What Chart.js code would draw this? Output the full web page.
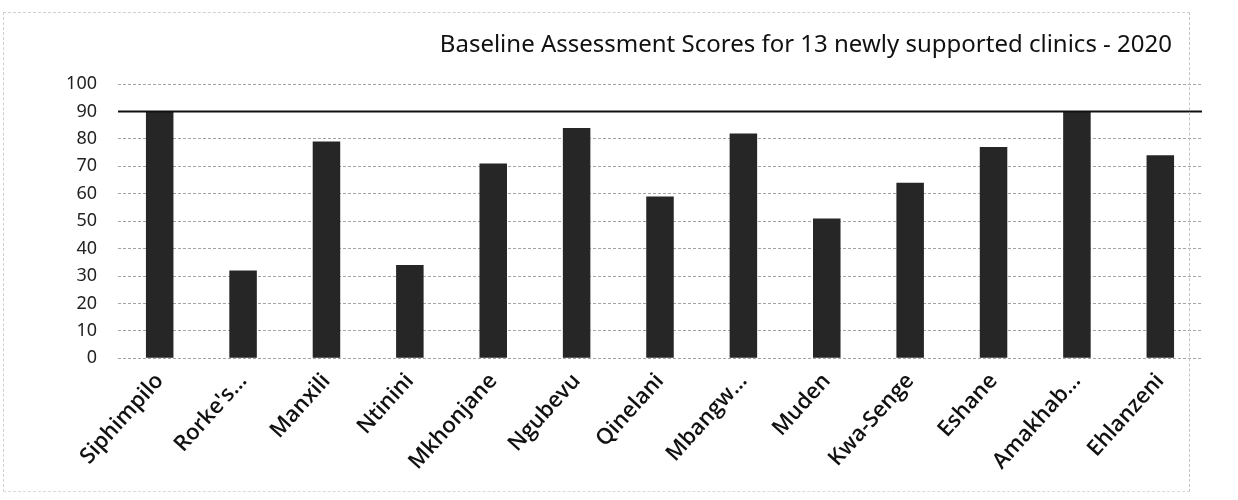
<!DOCTYPE html>
<html>
<head>
<meta charset="utf-8">
<script src="https://cdn.jsdelivr.net/npm/chart.js@4.4.1/dist/chart.umd.min.js"></script>
<style>
  html, body { margin: 0; padding: 0; background: #fff; }
  #wrap { width: 1238px; height: 500px; position: relative; }
  /* faint frame left over from the scanned page */
  #frame {
    position: absolute; left: 3px; top: 12px; width: 1185px; height: 478px;
    border-left: 1px dashed #d0d0d0; border-right: 1px dashed #c4c4c4;
    border-top: 1px dashed #d0d0d0; border-bottom: 1px dashed #dadada;
    pointer-events: none;
  }
</style>
</head>
<body>
<div id="wrap"><div id="frame"></div><canvas id="scoreChart"></canvas></div>
<script>
// Chart data
const clinics = ['Siphimpilo', "Rorke's…", 'Manxili', 'Ntinini', 'Mkhonjane', 'Ngubevu',
    'Qinelani', 'Mbangw…', 'Muden', 'Kwa-Senge', 'Eshane', 'Amakhab…', 'Ehlanzeni'];
const scores = [90, 32, 79, 34, 71, 84, 59, 82, 51, 64, 77, 90, 74];
const targetScore = 90;
const yTicks = [0, 10, 20, 30, 40, 50, 60, 70, 80, 90, 100];
const chartTitle = 'Baseline Assessment Scores for 13 newly supported clinics - 2020';

// Draws the solid target line across the plot area
const targetLine = {
    id: 'targetLine',
    afterDatasetsDraw(chart) {
        const { ctx, chartArea, scales } = chart;
        const y = scales.y.getPixelForValue(targetScore);
        ctx.save();
        ctx.strokeStyle = '#111';
        ctx.lineWidth = 2;
        ctx.beginPath();
        ctx.moveTo(chartArea.left, y);
        ctx.lineTo(chartArea.right, y);
        ctx.stroke();
        ctx.restore();
    }
};

// Title sits towards the right, like the scanned Excel chart
const rightTitle = {
    id: 'rightTitle',
    afterDraw(chart) {
        const { ctx } = chart;
        ctx.save();
        ctx.font = '24px "Noto Sans", sans-serif';
        ctx.fillStyle = '#111';
        ctx.textAlign = 'right';
        ctx.textBaseline = 'middle';
        ctx.fillText(chartTitle, chart.width - 66, 45);
        ctx.restore();
    }
};

new Chart(document.getElementById('scoreChart'), {
    type: 'bar',
    data: {
        labels: clinics,
        datasets: [{
            label: 'Score',
            data: scores,
            backgroundColor: '#262626',
            borderWidth: 0,
            categoryPercentage: 1,
            barPercentage: 0.33
        }]
    },
    options: {
        responsive: true,
        maintainAspectRatio: false,
        animation: false,
        layout: {
            padding: { left: 40, right: 36, top: 84, bottom: 23 }
        },
        plugins: {
            legend: { display: false },
            title: { display: false },
            tooltip: { enabled: false }
        },
        scales: {
            y: {
                min: 0,
                max: 100,
                afterBuildTicks(axis) {
                    axis.ticks = yTicks.map(v => ({ value: v }));
                },
                afterFit(axis) {
                    axis.width = 78;
                },
                border: { display: false, dash: [3, 2] },
                grid: {
                    color: '#a4a4a4',
                    lineWidth: 1,
                    drawTicks: false
                },
                ticks: {
                    padding: 21,
                    color: '#222',
                    font: { family: '"Noto Sans", sans-serif', size: 18 }
                }
            },
            x: {
                border: { display: false },
                grid: { display: false },
                ticks: {
                    autoSkip: false,
                    minRotation: 48,
                    maxRotation: 48,
                    padding: 2,
                    color: '#111',
                    font: { family: '"Open Sans", sans-serif', size: 22, weight: '600' }
                }
            }
        }
    },
    plugins: [targetLine, rightTitle]
});
</script>
</body>
</html>
